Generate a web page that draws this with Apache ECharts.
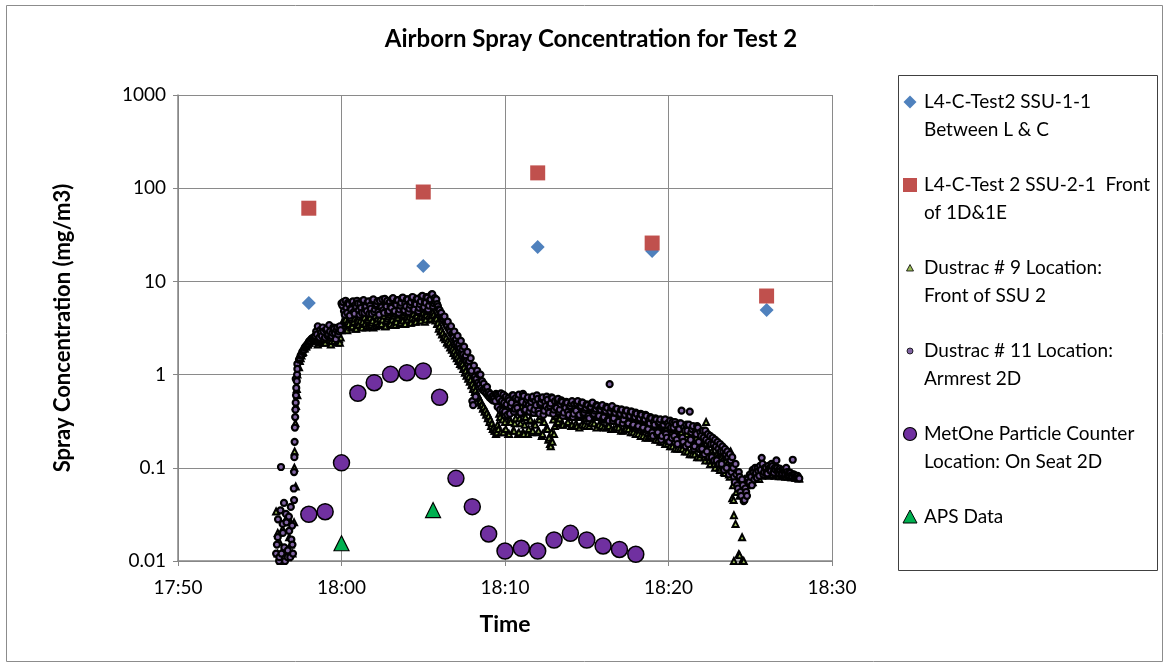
<!DOCTYPE html>
<html><head><meta charset="utf-8">
<script src="https://cdn.jsdelivr.net/npm/echarts@6/dist/echarts.min.js"></script>
<style>html,body{margin:0;padding:0;background:#fff}#c{width:1166px;height:667px}</style>
</head><body><div id="c"></div>
<script>
// ---------------- DATA ----------------
const xTickLabels = ['17:50', '18:00', '18:10', '18:20', '18:30'];
const yTickLabels = ['0.01', '0.1', '1', '10', '100', '1000'];

const seriesNames = [
  'L4-C-Test2 SSU-1-1 Between L & C',
  'L4-C-Test 2 SSU-2-1 Front of 1D&1E',
  'Dustrac # 9 Location: Front of SSU 2',
  'Dustrac # 11 Location: Armrest 2D',
  'MetOne Particle Counter Location: On Seat 2D',
  'APS Data'
];
const legendLines = [
  ['L4-C-Test2 SSU-1-1', 'Between L & C'],
  ['L4-C-Test 2 SSU-2-1  Front', 'of 1D&1E'],
  ['Dustrac # 9 Location:', 'Front of SSU 2'],
  ['Dustrac # 11 Location:', 'Armrest 2D'],
  ['MetOne Particle Counter', 'Location: On Seat 2D'],
  ['APS Data']
];

const ssuTimes = ['17:58', '18:05', '18:12', '18:19', '18:26'];
const ssu1Values = [5.86, 14.6, 23.4, 21.2, 4.93];
const ssu2Values = [61, 91, 146, 25.8, 6.97];

const metOneTimes = ['17:58', '17:59', '18:00', '18:01', '18:02', '18:03', '18:04', '18:05', '18:06', '18:07',
  '18:08', '18:09', '18:10', '18:11', '18:12', '18:13', '18:14', '18:15', '18:16', '18:17', '18:18'];
const metOneValues = [0.0317, 0.0338, 0.113, 0.63, 0.818, 1.007, 1.047, 1.093, 0.571, 0.0771,
  0.0383, 0.0195, 0.0128, 0.0137, 0.0128, 0.0168, 0.0198, 0.0168, 0.0145, 0.0133, 0.0118];

const apsTimes = ['18:00:00', '18:05:36'];
const apsValues = [0.0155, 0.0352];

// Dustrac loggers, run A: one reading every 6 s from 17:56:00
const dustracStart = '17:56:00';
const dustracStepSec = 6;
const dustrac9Values = [
  0.034, 0.012, 0.016, 0.01, 0.022, 0.013, 0.028, 0.011, 0.018, 0.026, 0.012, 0.026,
  0.063, 0.6, 1.2, 1.5, 1.7, 1.9, 2.0, 2.1, 2.2, 2.35, 2.4, 2.5, 2.45,
  2.5, 2.2, 2.7, 2.4, 2.6, 2.2, 2.8, 2.5, 2.7, 2.3, 2.9, 2.5, 2.8, 2.3, 2.2,
  3.0,
  3.4, 4.0, 3.1, 3.7, 4.1, 3.2, 3.6, 4.0, 3.1, 3.8, 4.2,
  3.3, 3.7, 4.1, 3.2, 3.9, 4.3, 3.4, 3.8, 4.2, 3.3, 4.0, 4.4, 3.5, 3.9, 4.3, 3.3, 4.0, 4.4,
  3.5, 3.9, 4.3, 3.4, 4.1, 4.5, 3.6, 4.0, 4.4, 3.5,
  4.2, 4.6, 3.6, 4.1, 4.5, 3.7, 4.3, 4.7, 3.8, 4.2, 4.6, 3.7, 4.4, 4.8, 3.9, 4.3, 4.7, 4.0,
  4.0, 3.6, 3.3, 3.0, 2.8, 2.6, 2.5, 2.3, 2.2, 2.0, 1.9, 1.8, 1.65, 1.55, 1.45, 1.35, 1.3, 1.2, 1.1, 1.0,
  0.95, 0.88, 0.8, 0.74, 0.68, 0.62, 0.57, 0.52, 0.48, 0.45, 0.42, 0.39, 0.36, 0.33, 0.3, 0.27, 0.25, 0.24,
  0.26, 0.35, 0.43, 0.24, 0.31, 0.40, 0.23, 0.33, 0.44, 0.25, 0.30, 0.41, 0.23, 0.34, 0.45, 0.24, 0.29, 0.40, 0.23, 0.32,
  0.43, 0.25, 0.30, 0.39, 0.24, 0.33, 0.42, 0.23, 0.31,
  0.40, 0.26, 0.21, 0.17, 0.19, 0.23, 0.36,
  0.30, 0.39, 0.45, 0.29, 0.37, 0.43, 0.30, 0.36, 0.44, 0.29, 0.38, 0.42, 0.28, 0.35, 0.43, 0.29, 0.37, 0.41, 0.28, 0.34,
  0.42, 0.30, 0.36, 0.40, 0.27, 0.35, 0.41, 0.28, 0.33, 0.39, 0.27, 0.34, 0.40, 0.26, 0.32, 0.38, 0.27, 0.33, 0.37, 0.25,
  0.31, 0.36, 0.26, 0.32, 0.35, 0.24, 0.30, 0.34, 0.23, 0.29, 0.33, 0.22, 0.28, 0.32, 0.21, 0.27, 0.31,
  0.22, 0.30, 0.26, 0.20, 0.29, 0.25, 0.19, 0.28, 0.24, 0.18, 0.27, 0.23, 0.17, 0.26, 0.22, 0.16, 0.25, 0.21, 0.16, 0.24,
  0.20, 0.15, 0.23, 0.19, 0.14, 0.22, 0.18, 0.14, 0.21, 0.17, 0.13,
  0.20, 0.16, 0.13, 0.31, 0.15, 0.12, 0.18, 0.14, 0.11, 0.17, 0.13, 0.10, 0.15, 0.12, 0.09, 0.14, 0.11, 0.085, 0.15,
  0.047, 0.031, 0.025, 0.07, 0.0118, 0.075, 0.018, 0.01, 0.06, 0.08, 0.07, 0.085,
  0.075, 0.09, 0.08, 0.095, 0.085, 0.1, 0.082, 0.09, 0.087, 0.095, 0.083, 0.09, 0.086, 0.093, 0.082, 0.088, 0.084, 0.09, 0.081, 0.087,
  0.083, 0.085, 0.08, 0.084, 0.079, 0.082, 0.08, 0.078, 0.079, 0.077
];
const dustrac11Values = [
  0.012, 0.018, 0.011, 0.102, 0.025, 0.014, 0.032, 0.011, 0.021, 0.038, 0.015, 0.045,
  0.9, 1.3, 1.45, 1.6, 1.75, 1.85, 2.0, 2.1, 2.25, 2.3, 2.45, 2.5, 2.6,
  2.7, 2.4, 3.0, 2.6, 2.9, 2.5, 3.1, 2.7, 2.9, 2.6, 3.2, 2.8, 3.0, 2.7, 3.3,
  5.8,
  6.0, 4.4, 5.2, 5.9, 4.3, 5.0, 6.1, 4.5, 5.3, 5.8, 4.4,
  5.2, 6.2, 4.6, 5.4, 6.0, 4.5, 5.1, 6.3, 4.7, 5.5, 6.1, 4.4, 5.3, 6.4, 4.6, 5.6, 6.2, 4.8,
  5.4, 6.5, 4.7, 5.7, 6.3, 4.6, 5.5, 6.6, 4.9, 5.8, 6.4, 4.7, 5.6, 6.7, 5.0, 5.9, 6.5, 4.8,
  5.7, 6.9, 5.1, 6.0, 6.8, 5.0, 6.2, 7.2, 5.4, 6.6,
  6.4, 5.4, 4.9, 4.6, 4.0, 4.2, 3.5, 3.7, 3.1, 3.3, 2.8, 2.9, 2.4, 2.6, 2.1, 2.3, 1.85, 2.0, 1.6, 1.75,
  1.4, 1.5, 0.52, 1.25, 0.58, 1.1, 1.0, 1.0, 0.85, 0.8, 0.72, 0.74, 0.65, 0.62, 0.58, 0.6, 0.52, 0.6,
  0.58, 0.42, 0.52, 0.61, 0.40, 0.48, 0.56, 0.38, 0.50, 0.60, 0.43, 0.47, 0.55, 0.39, 0.52, 0.62, 0.41, 0.49, 0.57, 0.40,
  0.51, 0.58, 0.42, 0.47, 0.55, 0.38, 0.50, 0.57, 0.41, 0.46, 0.54, 0.39, 0.49, 0.56, 0.42, 0.45, 0.53, 0.40,
  0.48, 0.51, 0.39, 0.44, 0.50, 0.37, 0.46, 0.52, 0.38, 0.43, 0.49, 0.36, 0.45, 0.50, 0.38, 0.42, 0.48, 0.36, 0.44, 0.49,
  0.37, 0.41, 0.47, 0.35,
  0.43, 0.46, 0.34, 0.40, 0.45, 0.33, 0.79, 0.44, 0.32, 0.39, 0.43, 0.31, 0.38, 0.42, 0.30, 0.37, 0.41, 0.29, 0.36, 0.40,
  0.28, 0.35, 0.39, 0.27, 0.34, 0.38, 0.26, 0.33, 0.37, 0.25, 0.32,
  0.35, 0.24, 0.31, 0.34, 0.23, 0.30, 0.33, 0.22, 0.29, 0.33, 0.21, 0.28, 0.32, 0.21, 0.27, 0.31, 0.20, 0.26, 0.30, 0.41,
  0.19, 0.25, 0.29, 0.18, 0.40, 0.24, 0.28, 0.17, 0.23, 0.27, 0.16,
  0.22, 0.25, 0.14, 0.20, 0.23, 0.13, 0.18, 0.21, 0.12, 0.17, 0.19, 0.11, 0.15, 0.17, 0.095, 0.14, 0.15, 0.085, 0.12, 0.13,
  0.08, 0.11, 0.065, 0.09, 0.055, 0.075, 0.044, 0.06, 0.05, 0.07,
  0.085, 0.065, 0.09, 0.1, 0.078, 0.092, 0.105, 0.128, 0.085, 0.1,
  0.09, 0.105, 0.095, 0.11, 0.088, 0.1, 0.12, 0.092, 0.098, 0.086, 0.094, 0.09, 0.1, 0.085, 0.089, 0.083, 0.122, 0.084, 0.08, 0.082,
  0.077
];
// run B: the readings logged between run A's, every 6 s from 17:57:27
const dustracStartB = '17:57:27';
const dustrac9ValuesB = [
  1.4, 1.6, 1.75, 1.9, 2.0, 2.1, 2.2, 2.3, 2.35, 2.4,
  2.4, 2.1, 2.7, 2.3, 2.6, 2.2, 2.8, 2.4, 2.5, 2.1, 2.7, 2.3, 2.6, 2.2, 2.4,
  2.5,
  3.6, 3.2, 3.9, 3.0, 3.5, 4.1, 3.3, 3.7, 3.1, 4.0, 3.4,
  3.8, 3.2, 4.2, 3.5, 3.9, 3.3, 4.1, 3.6, 3.2, 4.3, 3.7, 3.4, 4.0, 3.5, 4.4, 3.3, 3.8, 4.2,
  3.6, 4.0, 3.4, 4.5, 3.7, 4.1, 3.5, 4.4, 3.8, 3.5, 4.6, 3.9, 4.2, 3.6, 4.5, 4.0, 3.7, 4.7,
  4.1, 3.8, 4.6, 4.2, 3.9, 4.8, 4.3, 4.0, 4.6, 4.4,
  3.8, 3.5, 3.1, 2.9, 2.7, 2.5, 2.4, 2.2, 2.1, 1.95, 1.85, 1.7, 1.6, 1.5, 1.4, 1.3, 1.25, 1.15, 1.05, 0.97,
  0.9, 0.84, 0.77, 0.7, 0.65, 0.6, 0.55, 0.5, 0.47, 0.43, 0.4, 0.37, 0.34, 0.31, 0.28, 0.26, 0.25, 0.23,
  0.29, 0.38, 0.24, 0.33, 0.42, 0.26, 0.36, 0.23, 0.31, 0.40, 0.25, 0.34, 0.44, 0.24, 0.30, 0.38, 0.23, 0.35, 0.42, 0.26,
  0.33, 0.24, 0.39, 0.29, 0.44, 0.25, 0.36, 0.22, 0.31, 0.41, 0.27, 0.20, 0.18, 0.24, 0.33, 0.28, 0.38, 0.31,
  0.34, 0.41, 0.29, 0.37, 0.43, 0.31, 0.39, 0.28, 0.35, 0.42, 0.30, 0.38, 0.27, 0.36, 0.41, 0.29, 0.34, 0.40, 0.28, 0.37,
  0.42, 0.30, 0.35, 0.39,
  0.29, 0.36, 0.41, 0.27, 0.33, 0.39, 0.28, 0.35, 0.40, 0.26, 0.32, 0.38, 0.27, 0.34, 0.37, 0.25, 0.31, 0.36, 0.26, 0.33,
  0.35, 0.24, 0.30, 0.34, 0.23, 0.29, 0.33, 0.22, 0.28, 0.32, 0.21,
  0.26, 0.29, 0.21, 0.25, 0.28, 0.20, 0.24, 0.27, 0.19, 0.23, 0.27, 0.18, 0.22, 0.26, 0.17, 0.21, 0.25, 0.16, 0.20, 0.24,
  0.16, 0.19, 0.23, 0.15, 0.18, 0.22, 0.14, 0.17, 0.21, 0.13, 0.16,
  0.19, 0.14, 0.17, 0.12, 0.16, 0.13, 0.11, 0.15, 0.12, 0.1, 0.14, 0.11, 0.095, 0.13, 0.1, 0.088, 0.12, 0.095, 0.08, 0.11,
  0.065, 0.09, 0.055, 0.08, 0.05, 0.07, 0.06, 0.075, 0.065, 0.08,
  0.078, 0.085, 0.07, 0.09, 0.08, 0.088, 0.076, 0.092, 0.083, 0.09,
  0.085, 0.09, 0.082, 0.088, 0.084, 0.091, 0.083, 0.087, 0.081, 0.089, 0.082, 0.086, 0.08, 0.085, 0.081, 0.083, 0.079, 0.082, 0.078, 0.08,
  0.077
];
const dustrac11ValuesB = [
  1.5, 1.65, 1.8, 1.95, 2.05, 2.15, 2.3, 2.4, 2.45, 2.55,
  2.9, 3.3, 2.5, 2.8, 3.2, 2.4, 3.0, 2.6, 3.4, 2.5, 2.8, 3.1, 2.4, 3.2, 2.9,
  3.0,
  5.5, 4.8, 6.2, 4.6, 5.7, 5.1, 6.0, 4.7, 5.6, 6.2, 4.9,
  5.8, 4.6, 6.3, 5.2, 4.8, 6.1, 5.5, 4.5, 6.4, 5.0, 5.7, 4.7, 6.2, 5.3, 4.9, 6.5, 5.4, 4.6,
  6.0, 5.2, 6.6, 4.8, 5.6, 6.3, 5.0, 5.9, 6.7, 4.9, 5.4, 6.4, 5.1, 6.0, 6.8, 5.0, 5.7, 6.5,
  5.2, 6.1, 7.0, 5.3, 5.9, 6.7, 5.5, 6.4, 7.3, 5.8,
  6.0, 5.7, 5.0, 4.5, 4.1, 3.8, 3.6, 3.3, 3.1, 2.9, 2.7, 2.5, 2.3, 2.15, 2.0, 1.9, 1.75, 1.65, 1.5, 1.4,
  1.3, 1.2, 1.1, 0.47, 0.95, 0.9, 0.82, 0.78, 0.72, 0.68, 0.66, 0.63, 0.6, 0.57, 0.55, 0.53, 0.56, 0.62,
  0.45, 0.55, 0.63, 0.41, 0.50, 0.58, 0.37, 0.53, 0.46, 0.60, 0.40, 0.56, 0.44, 0.61, 0.39, 0.51, 0.59, 0.42, 0.54, 0.47,
  0.44, 0.56, 0.39, 0.52, 0.60, 0.41, 0.48, 0.55, 0.37, 0.51, 0.58, 0.43, 0.46, 0.57, 0.38, 0.52, 0.44, 0.55,
  0.42, 0.53, 0.36, 0.47, 0.51, 0.40, 0.45, 0.49, 0.35, 0.48, 0.41, 0.52, 0.37, 0.46, 0.50, 0.39, 0.44, 0.47, 0.34, 0.45,
  0.50, 0.38, 0.43, 0.46,
  0.36, 0.42, 0.47, 0.35, 0.41, 0.44, 0.32, 0.40, 0.46, 0.34, 0.39, 0.43, 0.31, 0.38, 0.42, 0.33, 0.37, 0.41, 0.30, 0.36,
  0.40, 0.29, 0.35, 0.38, 0.28, 0.34, 0.37, 0.27, 0.33, 0.36, 0.26,
  0.30, 0.34, 0.22, 0.29, 0.33, 0.24, 0.31, 0.20, 0.28, 0.32, 0.23, 0.30, 0.19, 0.27, 0.31, 0.22, 0.29, 0.18, 0.26, 0.30,
  0.21, 0.27, 0.17, 0.25, 0.29, 0.20, 0.26, 0.16, 0.24, 0.28, 0.19,
  0.24, 0.16, 0.21, 0.25, 0.15, 0.19, 0.22, 0.13, 0.18, 0.2, 0.12, 0.16, 0.18, 0.11, 0.15, 0.16, 0.1, 0.13, 0.14, 0.09,
  0.1, 0.07, 0.085, 0.06, 0.08, 0.05, 0.065, 0.045, 0.055, 0.075,
  0.07, 0.08, 0.095, 0.075, 0.088, 0.1, 0.082, 0.095, 0.11, 0.09,
  0.1, 0.087, 0.098, 0.092, 0.104, 0.089, 0.095, 0.1, 0.087, 0.093, 0.088, 0.095, 0.086, 0.09, 0.084, 0.088, 0.082, 0.085, 0.08, 0.081,
  0.078
];
// extra 1-s readings during the fast start-up and the 18:24 dip (clock time, value)
const dustrac11ExtraTimes = ['17:56:03', '17:56:07', '17:56:11', '17:56:16', '17:56:20', '17:56:25', '17:56:29', '17:56:33',
  '17:56:38', '17:56:43', '17:56:47', '17:56:52', '17:56:56', '17:56:59', '17:57:02',
  '17:57:05', '17:57:06', '17:57:07', '17:57:08', '17:57:09', '17:57:10', '17:57:11', '17:57:12', '17:57:13',
  '17:57:14', '17:57:16', '17:57:17', '17:57:18'];
const dustrac11ExtraValues = [0.015, 0.028, 0.01, 0.035, 0.012, 0.02, 0.042, 0.01, 0.026, 0.013, 0.03, 0.011, 0.017, 0.024, 0.012,
  0.06, 0.09, 0.13, 0.19, 0.27, 0.35, 0.42, 0.5, 0.6, 0.72, 0.85, 1.0, 1.15];
const dustrac9ExtraTimes = ['17:56:06', '17:56:24', '17:56:42', '17:56:54', '17:57:07', '17:57:08', '17:57:11', '17:57:13',
  '17:57:16', '17:57:18', '18:23:59', '18:24:00', '18:24:21', '18:24:30'];
const dustrac9ExtraValues = [0.02, 0.013, 0.03, 0.015, 0.1, 0.15, 0.3, 0.46, 0.7, 1.0, 0.045, 0.01, 0.0115, 0.01];

// ---------------- STYLE ----------------
const FONT = 'Lato, "Liberation Sans", sans-serif';
const C_SSU1 = '#4F81BD', C_SSU2 = '#C0504D', C_D9 = '#9BBB59', C_D11 = '#8064A2', C_MET = '#7030A0', C_APS = '#00B050';
const GRID_COLOR = '#8a8a8a';

function toMin(s) { const p = s.split(':').map(Number); return p[0] * 60 + p[1] + (p[2] || 0) / 60; }
function fmtTime(v) { const h = Math.floor(v / 60), m = Math.round(v - h * 60); return h + ':' + String(m).padStart(2, '0'); }
const zip = (ts, vs) => ts.map((t, i) => [toMin(t), vs[i]]);
const gridSeries = (start, vs) => vs.map((v, i) => [toMin(start) + i * dustracStepSec / 60, v]);
const byTime = (a, b) => a[0] - b[0];

const xMin = toMin(xTickLabels[0]), xMax = toMin(xTickLabels[xTickLabels.length - 1]);

const chart = echarts.init(document.getElementById('c'), null, { renderer: 'canvas' });

// legend drawn as graphic (marker aligned to the first text line)
const legendX = 898, legendY = 75, legendW = 259, legendH = 495;
const itemTop = 102, itemPitch = 83, lineH = 28, mx = 910, tx = 924;
const markerDefs = [
  { type: 'polygon', shape: { points: [[0, -6.5], [6.5, 0], [0, 6.5], [-6.5, 0]] }, style: { fill: C_SSU1 } },
  { type: 'rect', shape: { x: -7, y: -7, width: 14, height: 14 }, style: { fill: C_SSU2 } },
  { type: 'polygon', shape: { points: [[0, -3.5], [3.5, 3], [-3.5, 3]] }, style: { fill: C_D9, stroke: '#000', lineWidth: 0.8 } },
  { type: 'circle', shape: { cx: 0, cy: 0, r: 3 }, style: { fill: C_D11, stroke: '#000', lineWidth: 0.8 } },
  { type: 'circle', shape: { cx: 0, cy: 0, r: 6.5 }, style: { fill: C_MET, stroke: '#000', lineWidth: 1.2 } },
  { type: 'polygon', shape: { points: [[0, -7], [7, 6], [-7, 6]] }, style: { fill: C_APS, stroke: '#000', lineWidth: 1 } }
];
const legendGraphics = [{
  type: 'rect', shape: { x: legendX + 0.5, y: legendY + 0.5, width: legendW, height: legendH },
  style: { fill: '#fff', stroke: '#404040', lineWidth: 1 }, z: 10
}];
legendLines.forEach((lines, k) => {
  const cy = itemTop + k * itemPitch;
  const m = markerDefs[k];
  legendGraphics.push(Object.assign({}, m, { x: mx, y: cy, z: 11 }));
  lines.forEach((ln, j) => legendGraphics.push({
    type: 'text', x: tx, y: cy + j * lineH, z: 11,
    style: { text: ln, font: '19px ' + FONT, fill: '#000', verticalAlign: 'middle', align: 'left' }
  }));
});

const option = {
  backgroundColor: '#fff',
  animation: false,
  title: {
    text: 'Airborn Spray Concentration for Test 2',
    left: 586, top: 22, textAlign: 'center',
    textStyle: { fontFamily: FONT, fontWeight: 'bold', fontSize: 24, color: '#000' }
  },
  grid: { left: 178, right: 334, top: 95, bottom: 106, containLabel: false },
  xAxis: {
    type: 'value', min: xMin, max: xMax, interval: 10,
    name: 'Time', nameLocation: 'middle', nameGap: 52,
    nameTextStyle: { fontFamily: FONT, fontWeight: 'bold', fontSize: 23, color: '#000' },
    axisLine: { show: true, lineStyle: { color: '#868686', width: 1.5 } },
    axisTick: { show: true, length: 5, lineStyle: { color: '#868686' } },
    axisLabel: { fontFamily: FONT, fontSize: 19, color: '#000', margin: 17, formatter: v => fmtTime(v) },
    splitLine: { show: true, lineStyle: { color: GRID_COLOR, width: 1 } }
  },
  yAxis: {
    type: 'log', logBase: 10, min: Number(yTickLabels[0]), max: Number(yTickLabels[yTickLabels.length - 1]),
    name: 'Spray Concentration (mg/m3)', nameLocation: 'middle', nameGap: 104,
    nameTextStyle: { fontFamily: FONT, fontWeight: 'bold', fontSize: 22, color: '#000' },
    axisLine: { show: true, lineStyle: { color: '#868686', width: 1.5 } },
    axisTick: { show: true, length: 5, lineStyle: { color: '#868686' } },
    axisLabel: { fontFamily: FONT, fontSize: 19, color: '#000', margin: 12, formatter: v => String(+v.toPrecision(3)) },
    splitLine: { show: true, lineStyle: { color: GRID_COLOR, width: 1 } }
  },
  graphic: [
    { type: 'rect', shape: { x: 6.5, y: 5.5, width: 1156, height: 656 }, style: { fill: null, stroke: '#8c8c8c', lineWidth: 1 }, z: -1 }
  ].concat(legendGraphics),
  series: [
    { name: seriesNames[0], type: 'scatter', symbol: 'diamond', symbolSize: 14,
      itemStyle: { color: C_SSU1, opacity: 1 }, data: zip(ssuTimes, ssu1Values), z: 2 },
    { name: seriesNames[1], type: 'scatter', symbol: 'rect', symbolSize: 15,
      itemStyle: { color: C_SSU2, opacity: 1 }, data: zip(ssuTimes, ssu2Values), z: 2 },
    { name: seriesNames[2], type: 'scatter', symbol: 'triangle', symbolSize: 6,
      itemStyle: { color: C_D9, borderColor: '#000', borderWidth: 2, opacity: 1 },
      data: gridSeries(dustracStart, dustrac9Values)
        .concat(gridSeries(dustracStartB, dustrac9ValuesB))
        .concat(zip(dustrac9ExtraTimes, dustrac9ExtraValues)).sort(byTime), z: 3 },
    { name: seriesNames[3], type: 'scatter', symbol: 'circle', symbolSize: 6,
      itemStyle: { color: C_D11, borderColor: '#000', borderWidth: 2.2, opacity: 1 },
      data: gridSeries(dustracStart, dustrac11Values)
        .concat(gridSeries(dustracStartB, dustrac11ValuesB))
        .concat(zip(dustrac11ExtraTimes, dustrac11ExtraValues)).sort(byTime), z: 4 },
    { name: seriesNames[4], type: 'scatter', symbol: 'circle', symbolSize: 16,
      itemStyle: { color: C_MET, borderColor: '#000', borderWidth: 1.5, opacity: 1 },
      data: zip(metOneTimes, metOneValues), z: 5 },
    { name: seriesNames[5], type: 'scatter', symbol: 'triangle', symbolSize: 15,
      itemStyle: { color: C_APS, borderColor: '#000', borderWidth: 1.2, opacity: 1 },
      data: zip(apsTimes, apsValues), z: 6 }
  ]
};
chart.setOption(option);
</script>
</body></html>
